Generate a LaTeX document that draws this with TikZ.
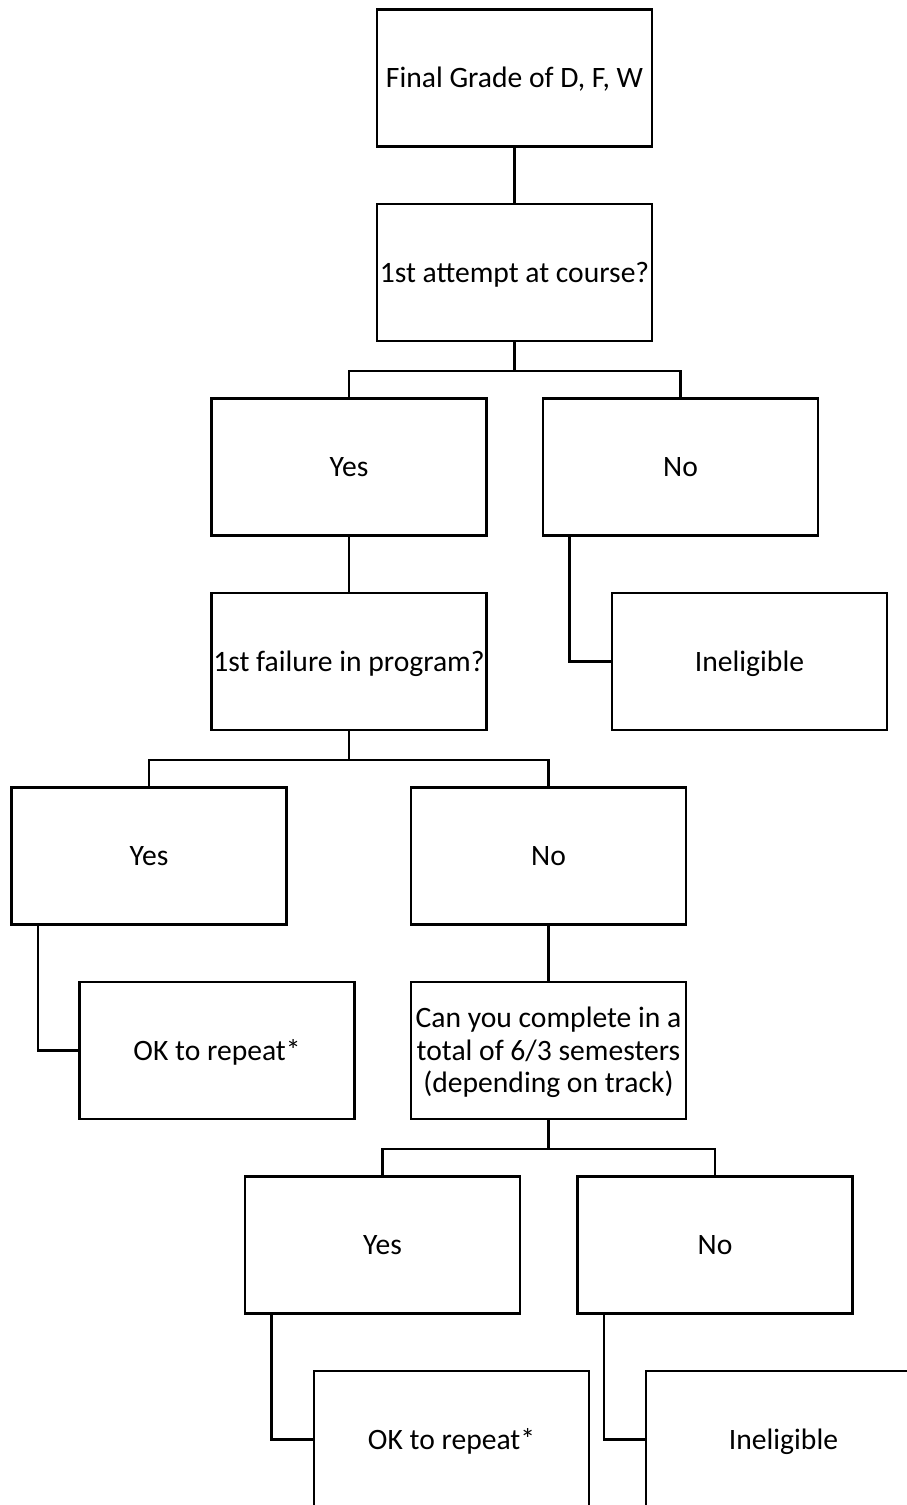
\documentclass[tikz,border=0pt]{standalone}
\usepackage{fontspec}
\setmainfont{Carlito}
\usetikzlibrary{positioning}

\tikzset{
	kasten/.style={draw,line width=2.2pt,minimum width=275pt,minimum height=137pt,
		inner sep=0pt,align=center,text height=19pt,text depth=0pt,
		font=\fontsize{29.6}{32.5}\selectfont},
	linie/.style={line width=2.2pt}
}

\begin{document}
\begin{tikzpicture}[x=1pt,y=-1pt]

\def\w{907}
\def\h{1505}
\def\gap{29}
\def\seite{27.5}

\useasboundingbox (0,0) rectangle (\w,\h);
\clip (0,0) rectangle (\w,\h);

\node[kasten] (grade) at (514.5,78) {Final Grade of D, F, W};
\node[kasten] (attempt) at (514.5,272.5) {1st attempt at course?};

\node[kasten] (yesone) at (349,467) {Yes};
\node[kasten] (noone) at (680.5,467) {No};
\node[kasten] (failure) at (349,661.5) {1st failure in program?};
\node[kasten] (inelone) at (749.5,661.5) {Ineligible};

\node[kasten] (yestwo) at (149,856) {Yes};
\node[kasten] (notwo) at (548.5,856) {No};
\node[kasten] (okone) at (217,1050.5) {OK to repeat*};
\node[kasten,text height=84pt] (complete) at (548.5,1050.5) {Can you complete in a\\total of 6/3 semesters\\(depending on track)};

\node[kasten] (yesthree) at (382.5,1245) {Yes};
\node[kasten] (nothree) at (715,1245) {No};
\node[kasten] (oktwo) at (451.5,1439.5) {OK to repeat*};
\node[kasten] (inelthree) at (783.5,1439.5) {Ineligible};

% straight links
\draw[linie] (grade) -- (attempt);
\draw[linie] (yesone) -- (failure);
\draw[linie] (notwo) -- (complete);

% yes/no forks
\draw[linie] (attempt.south) -- ++(0,\gap) -| (yesone.north);
\draw[linie] (attempt.south) -- ++(0,\gap) -| (noone.north);
\draw[linie] (failure.south) -- ++(0,\gap) -| (yestwo.north);
\draw[linie] (failure.south) -- ++(0,\gap) -| (notwo.north);
\draw[linie] (complete.south) -- ++(0,\gap) -| (yesthree.north);
\draw[linie] (complete.south) -- ++(0,\gap) -| (nothree.north);

% side outcomes
\draw[linie] ([xshift=\seite pt]noone.south west) |- (inelone.west);
\draw[linie] ([xshift=\seite pt]yestwo.south west) |- (okone.west);
\draw[linie] ([xshift=\seite pt]yesthree.south west) |- (oktwo.west);
\draw[linie] ([xshift=\seite pt]nothree.south west) |- (inelthree.west);

\end{tikzpicture}
\end{document}
